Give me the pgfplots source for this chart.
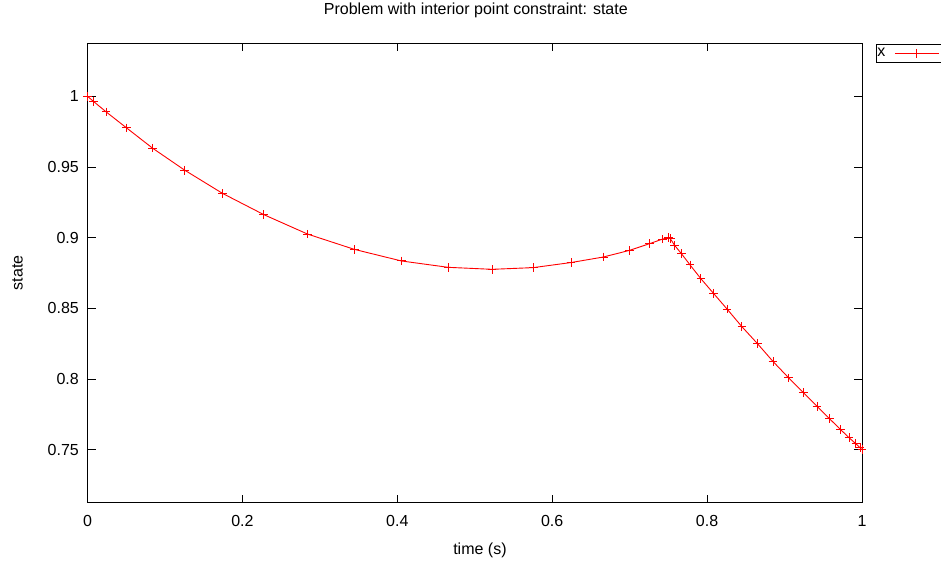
\documentclass[border=0pt]{standalone}
\usepackage{fontspec}
\setmainfont{Liberation Sans}
\usepackage{pgfplots}
\pgfplotsset{compat=1.18}
\begin{document}
\begin{tikzpicture}[x=1pt,y=1pt,font=\fontsize{16}{19}\selectfont]
\useasboundingbox (0,0) rectangle (941,561);
\begin{axis}[
  at={(87.5pt,58.3pt)}, anchor=south west,
  scale only axis, width=774.5pt, height=459.4pt,
  xmin=0, xmax=1, ymin=0.7125, ymax=1.0375,
  clip=false,
  axis line style={line width=1pt, black},
  every tick/.style={black, line width=0.8pt},
  major tick length=8pt,
  xtick={0,0.2,0.4,0.6,0.8,1},
  xticklabels={0,0.2,0.4,0.6,0.8,1},
  ytick={0.75,0.8,0.85,0.9,0.95,1},
  yticklabels={0.75,0.8,0.85,0.9,0.95,1},
  minor tick num=0,
  xticklabel style={anchor=base, inner sep=0pt, yshift=-24pt},
  yticklabel style={anchor=east, inner sep=0pt, xshift=-8.5pt},
  title={Problem with interior point constraint: state},
  title style={at={(axis description cs:0.5014,1.0492)}, anchor=base, inner sep=0pt},
  xlabel={time (s)},
  xlabel style={at={(axis description cs:0.5067,-0.1138)}, anchor=base, inner sep=0pt},
  ylabel={state},
  ylabel style={at={(axis description cs:-0.0904,0.5)}, anchor=center, inner sep=0pt},
  legend plot pos=right,
  legend style={at={(axis description cs:1.0177,0.9978)}, anchor=north west,
    inner xsep=1.5pt, inner ysep=1.5pt,
    nodes={inner sep=0pt, text height=11pt, text depth=3.5pt},
    column sep=9pt},
  legend image code/.code={
    \draw[mark repeat=2, mark phase=2, #1] plot coordinates {(0pt,0pt) (22pt,0pt) (44pt,0pt)};
  },
]
\addplot[color=red, line width=0.9pt, mark=+, mark size=4.3pt, mark options={line width=1pt}] coordinates {
(0,1.0)
(0.0075,0.9965)
(0.024,0.989)
(0.0503,0.9777)
(0.084,0.9633)
(0.1256,0.9477)
(0.1744,0.9313)
(0.2276,0.9163)
(0.2843,0.9025)
(0.3446,0.8917)
(0.4054,0.8835)
(0.4658,0.8790)
(0.5224,0.8776)
(0.5756,0.8788)
(0.6244,0.8824)
(0.666,0.8863)
(0.6998,0.8910)
(0.726,0.8958)
(0.7425,0.8990)
(0.75,0.9)
(0.75,0.9)
(0.7525,0.8993)
(0.758,0.8946)
(0.7668,0.8887)
(0.778,0.8807)
(0.7919,0.8710)
(0.8081,0.8607)
(0.8259,0.8494)
(0.8448,0.8371)
(0.8649,0.8251)
(0.8851,0.8124)
(0.9053,0.8008)
(0.9241,0.7905)
(0.9419,0.7807)
(0.9581,0.7719)
(0.972,0.7644)
(0.98325,0.7585)
(0.992,0.7542)
(0.9975,0.7514)
(1,0.75)
};
\addlegendentry{x}
\end{axis}
\end{tikzpicture}
\end{document}
